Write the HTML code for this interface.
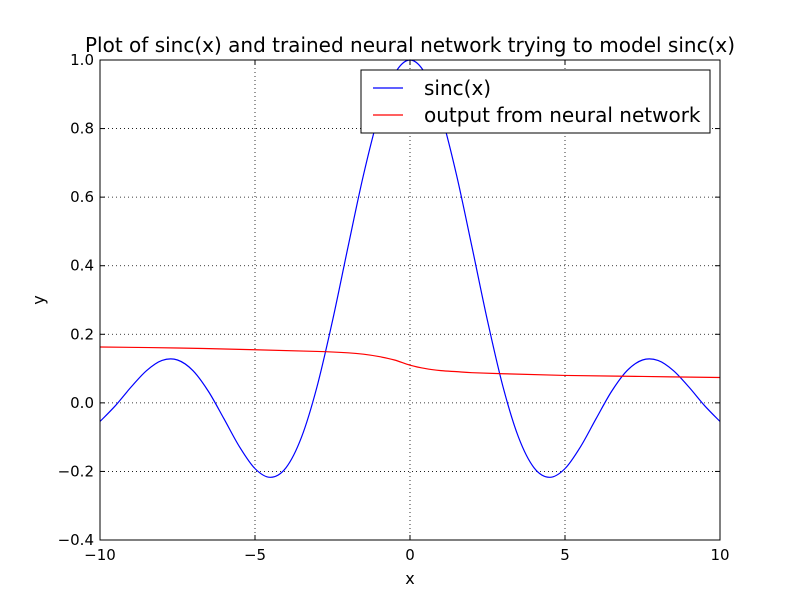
<!DOCTYPE html>
<html><head><meta charset="utf-8"><style>
body{margin:0;background:#fff;}
svg text{font-family:"DejaVu Sans","Liberation Sans",sans-serif;}
</style></head><body>
<svg id="chart" width="800" height="600" xmlns="http://www.w3.org/2000/svg">
<rect width="800" height="600" fill="#fff"/>
<g id="grid"></g><g id="series"></g>
<rect x="100" y="60" width="620" height="480" fill="none" stroke="#000" stroke-width="1"/>
<g id="ticks"></g>
<text x="410" y="52" text-anchor="middle" font-size="20">Plot of sinc(x) and trained neural network trying to model sinc(x)</text>
<text x="410" y="584" text-anchor="middle" font-size="16">x</text>
<text x="44" y="300" text-anchor="middle" font-size="16" transform="rotate(-90 44 300)">y</text>
<g>
<rect x="361" y="70" width="349" height="63" fill="#fff" stroke="#000" stroke-width="1"/>
<line x1="373" y1="88" x2="403" y2="88" stroke="#0000ff" stroke-width="1.2"/>
<text x="424" y="95" font-size="20">sinc(x)</text>
<line x1="373" y1="115" x2="403" y2="115" stroke="#ff0000" stroke-width="1.2"/>
<text x="424" y="122" font-size="20">output from neural network</text>
</g>
</svg>
<script>
const xTicks=[-10,-5,0,5,10];
const xTickLabels=["\u221210","\u22125","0","5","10"];
const yTicks=[-0.4,-0.2,0.0,0.2,0.4,0.6,0.8,1.0];
const yTickLabels=["\u22120.4","\u22120.2","0.0","0.2","0.4","0.6","0.8","1.0"];
const sincX=[-10,-9.5,-9,-8.5,-8,-7.5,-7,-6.5,-6,-5.5,-5,-4.5,-4,-3.5,-3,-2.5,-2,-1.5,-1,-0.5,0,0.5,1,1.5,2,2.5,3,3.5,4,4.5,5,5.5,6,6.5,7,7.5,8,8.5,9,9.5,10];
const sincY=[-0.0544,-0.0079,0.0458,0.0939,0.1237,0.1250,0.0939,0.0331,-0.0466,-0.1282,-0.1918,-0.2172,-0.1892,-0.1002,0.0470,0.2394,0.4546,0.6650,0.8415,0.9589,1.0,0.9589,0.8415,0.6650,0.4546,0.2394,0.0470,-0.1002,-0.1892,-0.2172,-0.1918,-0.1282,-0.0466,0.0331,0.0939,0.1250,0.1237,0.0939,0.0458,-0.0079,-0.0544];
const nnX=[-10,-7.5,-5,-3,-2,-1.5,-1,-0.5,0,0.5,1,1.5,2,3,5,7.5,10];
const nnY=[0.163,0.160,0.155,0.150,0.146,0.142,0.135,0.125,0.110,0.100,0.094,0.091,0.088,0.085,0.080,0.077,0.074];
const X0=100,X1=720,Y0=540,Y1=60;
const sx=v=>X0+(v+10)/20*(X1-X0);
const sy=v=>Y0-(v+0.4)/1.4*(Y0-Y1);
const NS="http://www.w3.org/2000/svg";
function mk(tag,attrs,parent){const e=document.createElementNS(NS,tag);for(const k in attrs)e.setAttribute(k,attrs[k]);parent.appendChild(e);return e;}
const grid=document.getElementById('grid'),ticks=document.getElementById('ticks'),series=document.getElementById('series');
xTicks.forEach((t,i)=>{const x=sx(t);
 const g=mk('line',{x1:x,y1:Y1,x2:x,y2:Y0,stroke:'#000','stroke-dasharray':'1,3','stroke-width':0.8},grid);
 
 
 mk('line',{x1:x,y1:Y0,x2:x,y2:Y0-5,stroke:'#000'},ticks);
 mk('line',{x1:x,y1:Y1,x2:x,y2:Y1+5,stroke:'#000'},ticks);
 const tx=mk('text',{x:x,y:Y0+20,'text-anchor':'middle','font-size':15},ticks);tx.textContent=xTickLabels[i];
 
 
});
yTicks.forEach((t,i)=>{const y=sy(t);
 const g=mk('line',{x1:X0,y1:y,x2:X1,y2:y,stroke:'#000','stroke-dasharray':'1,3','stroke-width':0.8},grid);
 
 
 mk('line',{x1:X0,y1:y,x2:X0+5,y2:y,stroke:'#000'},ticks);
 mk('line',{x1:X1,y1:y,x2:X1-5,y2:y,stroke:'#000'},ticks);
 const tx=mk('text',{x:X0-6,y:y+5,'text-anchor':'end','font-size':15},ticks);tx.textContent=yTickLabels[i];
 
 
});
function curve(xs,ys){const p=xs.map((x,i)=>[sx(x),sy(ys[i])]);let d='M'+p[0][0]+','+p[0][1];
 for(let i=0;i<p.length-1;i++){const a=p[i-1]||p[i],b=p[i],c=p[i+1],e=p[i+2]||c;
  d+=' C'+(b[0]+(c[0]-a[0])/6)+','+(b[1]+(c[1]-a[1])/6)+' '+(c[0]-(e[0]-b[0])/6)+','+(c[1]-(e[1]-b[1])/6)+' '+c[0]+','+c[1];}
 return d;}
const l1=mk('path',{d:curve(sincX,sincY),fill:'none',stroke:'#0000ff','stroke-width':1.2},series);


const l2=mk('path',{d:curve(nnX,nnY),fill:'none',stroke:'#ff0000','stroke-width':1.2},series);


</script>
</body></html>
